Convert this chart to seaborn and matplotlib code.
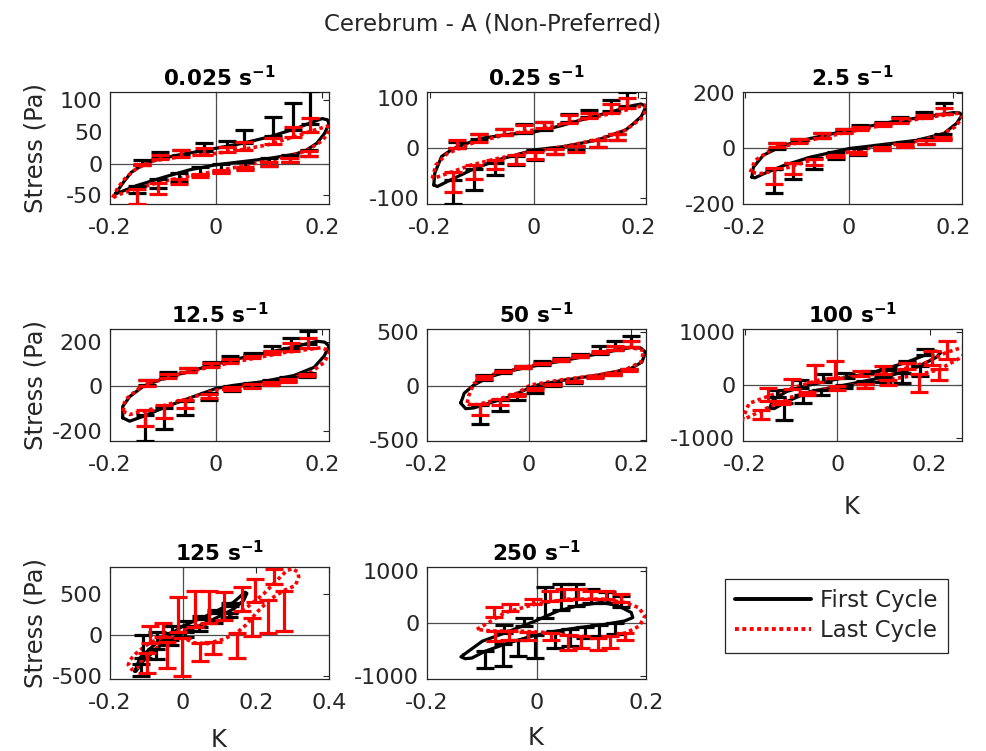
import matplotlib
matplotlib.use("Agg")
import matplotlib.pyplot as plt
import seaborn as sns
import numpy as np
from matplotlib.lines import Line2D
from matplotlib.ticker import FuncFormatter

# ---------------- data ----------------
rates = ["0.025", "0.25", "2.5", "12.5", "50", "100", "125", "250"]

# panel 1 : 0.025 1/s
p1_first_x = [-0.19, -0.175, -0.16, -0.14, -0.12, -0.08, -0.04, 0, 0.05, 0.1, 0.15, 0.18, 0.2, 0.21, 0.213, 0.205, 0.19, 0.17, 0.15, 0.1, 0.05, 0, -0.05, -0.1, -0.15, -0.18, -0.19]
p1_first_y = [-48, -30, -14, -3, 4, 12, 18, 24, 32, 42, 55, 65, 71, 69, 63, 48, 32, 21, 15, 8, 3, -2, -10, -22, -35, -45, -48]
p1_last_x = [-0.195, -0.185, -0.17, -0.15, -0.12, -0.08, -0.04, 0, 0.05, 0.1, 0.15, 0.19, 0.21, 0.214, 0.21, 0.195, 0.17, 0.13, 0.1, 0.05, 0, -0.05, -0.1, -0.15, -0.18, -0.195]
p1_last_y = [-54, -38, -22, -8, 4, 9, 13, 16, 22, 30, 43, 54, 59, 55, 45, 33, 20, 10, 5, -4, -12, -20, -28, -40, -48, -54]
p1_up_x = [-0.14, -0.105, -0.067, -0.023, 0.021, 0.053, 0.107, 0.145, 0.177]
p1_first_up_y = [-2, 8, 14, 20, 26, 32, 44, 53, 63]
p1_first_up_e = [7, 10, 8, 12, 10, 21, 30, 43, 51]
p1_last_up_y = [-3, 7, 11, 14, 18, 22, 31, 42, 50]
p1_last_up_e = [3, 6, 10, 10, 8, 12, 9, 16, 22]
p1_lo_x = [-0.15, -0.11, -0.07, -0.03, 0.01, 0.055, 0.1, 0.14, 0.175]
p1_first_lo_y = [-35, -24, -15, -6, -1, 3, 8, 13, 22]
p1_first_lo_e = [12, 14, 14, 12, 12, 11, 12, 11, 10]
p1_last_lo_y = [-40, -31, -24, -16, -10, -5, 2, 8, 20]
p1_last_lo_e = [24, 17, 8, 6, 5, 6, 6, 6, 8]

# panel 2 : 0.25 1/s
p2_first_x = [-0.192, -0.19, -0.177, -0.16, -0.147, -0.103, -0.05, 0, 0.05, 0.09, 0.154, 0.19, 0.206, 0.215, 0.206, 0.19, 0.176, 0.122, 0.058, 0, -0.07, -0.12, -0.166, -0.185, -0.192]
p2_first_y = [-74, -50, -17, -5, 2, 19, 27, 32, 44, 56, 74, 85, 88, 83, 63, 48, 36, 16, 3, -4, -24, -44, -67, -77, -74]
p2_last_x = [-0.195, -0.188, -0.166, -0.12, -0.057, 0, 0.09, 0.167, 0.205, 0.212, 0.215, 0.206, 0.176, 0.122, 0.058, 0, -0.07, -0.12, -0.166, -0.185, -0.195]
p2_last_y = [-61, -34, -11, 9, 26, 36, 56, 73, 84, 86, 76, 59, 36, 17, 3, -7, -21, -34, -51, -58, -61]
p2_up_x = [-0.147, -0.105, -0.057, -0.019, 0.02, 0.068, 0.105, 0.147, 0.178]
p2_first_up_y = [0, 18, 26, 31, 36, 52, 62, 75, 85]
p2_first_up_e = [13, 11, 13, 18, 16, 17, 14, 21, 28]
p2_last_up_y = [1, 13, 26, 33, 40, 51, 60, 71, 80]
p2_last_up_e = [15, 16, 13, 13, 13, 15, 10, 18, 21]
p2_lo_x = [-0.155, -0.115, -0.075, -0.035, 0.003, 0.04, 0.08, 0.122, 0.16]
p2_first_lo_y = [-64, -42, -29, -15, -4, 0, 5, 16, 29]
p2_first_lo_e = [47, 42, 25, 19, 20, 11, 9, 13, 13]
p2_last_lo_y = [-47, -33, -24, -14, -7, -1, 5, 17, 29]
p2_last_lo_e = [40, 28, 17, 17, 14, 10, 12, 14, 13]

# panel 3 : 2.5 1/s
p3_first_x = [-0.187, -0.184, -0.165, -0.126, -0.075, 0, 0.085, 0.15, 0.2, 0.212, 0.217, 0.207, 0.182, 0.131, 0.054, 0, -0.075, -0.126, -0.165, -0.181, -0.187]
p3_first_y = [-104, -68, -25, 11, 35, 65, 96, 114, 128, 127, 120, 90, 53, 29, 11, -1, -32, -62, -92, -106, -104]
p3_last_x = [-0.19, -0.181, -0.152, -0.107, -0.056, 0, 0.085, 0.163, 0.211, 0.217, 0.204, 0.176, 0.125, 0.054, 0, -0.075, -0.126, -0.171, -0.19]
p3_last_y = [-86, -44, -8, 16, 37, 59, 90, 114, 126, 108, 77, 47, 23, 5, -13, -44, -74, -91, -86]
p3_up_x = [-0.139, -0.097, -0.052, -0.01, 0.021, 0.066, 0.098, 0.144, 0.182]
p3_first_up_y = [-2, 22, 38, 60, 70, 88, 96, 111, 124]
p3_first_up_e = [20, 13, 17, 10, 14, 8, 18, 21, 38]
p3_last_up_y = [5, 18, 38, 55, 64, 80, 92, 108, 122]
p3_last_up_e = [14, 17, 18, 13, 13, 10, 16, 13, 23]
p3_lo_x = [-0.145, -0.107, -0.068, -0.025, 0.018, 0.063, 0.108, 0.147, 0.18]
p3_first_lo_y = [-74, -54, -35, -13, 2, 11, 22, 34, 52]
p3_first_lo_e = [85, 56, 39, 25, 27, 18, 17, 17, 17]
p3_last_lo_y = [-72, -52, -40, -25, -12, 3, 16, 30, 42]
p3_last_lo_e = [56, 39, 20, 8, 8, 10, 11, 13, 12]

# panel 4 : 12.5 1/s
p4_first_x = [-0.176, -0.176, -0.163, -0.137, -0.093, -0.055, 0, 0.064, 0.128, 0.191, 0.205, 0.213, 0.204, 0.185, 0.147, 0.084, 0.033, 0, -0.043, -0.093, -0.137, -0.163, -0.176]
p4_first_y = [-142, -91, -47, 0, 41, 63, 100, 136, 166, 202, 198, 180, 136, 85, 48, 19, 4, -10, -47, -91, -135, -157, -142]
p4_last_x = [-0.175, -0.172, -0.146, -0.108, -0.055, 0, 0.064, 0.128, 0.198, 0.215, 0.204, 0.179, 0.141, 0.084, 0, -0.062, -0.125, -0.163, -0.175]
p4_last_y = [-113, -62, -11, 26, 63, 92, 122, 151, 173, 158, 107, 63, 34, 12, -18, -62, -105, -127, -113]
p4_up_x = [-0.131, -0.09, -0.052, -0.01, 0.027, 0.068, 0.106, 0.141, 0.173]
p4_first_up_y = [5, 45, 65, 95, 115, 140, 158, 172, 190]
p4_first_up_e = [21, 18, 17, 12, 21, 11, 22, 45, 56]
p4_last_up_y = [3, 35, 63, 88, 105, 125, 145, 158, 170]
p4_last_up_e = [26, 20, 19, 17, 17, 11, 13, 36, 46]
p4_lo_x = [-0.134, -0.099, -0.058, -0.014, 0.03, 0.068, 0.103, 0.135, 0.172]
p4_first_lo_y = [-127, -96, -65, -30, 3, 15, 27, 42, 60]
p4_first_lo_e = [118, 97, 62, 32, 25, 20, 20, 20, 20]
p4_last_lo_y = [-105, -84, -64, -35, -5, 10, 20, 33, 55]
p4_last_lo_e = [74, 58, 34, 19, 13, 20, 16, 15, 10]

# panel 5 : 50 1/s
p5_first_x = [-0.134, -0.13, -0.127, -0.108, -0.077, -0.04, 0, 0.07, 0.135, 0.2, 0.22, 0.229, 0.222, 0.2, 0.135, 0.07, 0.017, 0, -0.036, -0.077, -0.108, -0.124, -0.134]
p5_first_y = [-157, -110, -67, 9, 85, 135, 176, 236, 297, 357, 350, 312, 221, 161, 100, 55, 9, -21, -97, -157, -203, -210, -157]
p5_last_x = [-0.121, -0.118, -0.108, -0.077, 0, 0.07, 0.135, 0.2, 0.226, 0.22, 0.187, 0.135, 0.07, 0.003, -0.023, -0.063, -0.102, -0.118, -0.121]
p5_last_y = [-157, -90, 24, 100, 182, 245, 306, 357, 327, 221, 145, 100, 61, 9, -67, -127, -173, -170, -157]
p5_up_x = [-0.089, -0.05, -0.012, 0.025, 0.064, 0.1, 0.14, 0.17, 0.2]
p5_first_up_y = [55, 120, 165, 195, 230, 265, 300, 330, 357]
p5_first_up_e = [45, 25, 17, 35, 28, 32, 73, 88, 107]
p5_last_up_y = [60, 125, 170, 200, 235, 270, 305, 335, 357]
p5_last_up_e = [31, 15, 15, 15, 15, 15, 22, 38, 61]
p5_lo_x = [-0.095, -0.056, -0.023, 0.012, 0.048, 0.088, 0.13, 0.166, 0.197]
p5_first_lo_y = [-180, -130, -80, -10, 25, 50, 95, 120, 160]
p5_first_lo_e = [175, 103, 47, 57, 25, 20, 15, 15, 15]
p5_last_lo_y = [-165, -120, -70, -20, 20, 50, 90, 120, 155]
p5_last_lo_e = [99, 53, 27, 16, 15, 15, 15, 15, 15]

# panel 6 : 100 1/s
p6_first_x = [-0.147, -0.139, -0.11, -0.059, 0, 0.073, 0.147, 0.213, 0.224, 0.213, 0.169, 0.11, 0.037, 0, -0.059, -0.11, -0.136, -0.147]
p6_first_y = [-449, -288, -128, 0, 109, 224, 417, 641, 609, 513, 321, 160, 32, -32, -128, -321, -449, -449]
p6_last_x = [-0.206, -0.191, -0.162, -0.11, -0.037, 0.037, 0.11, 0.191, 0.235, 0.28, 0.28, 0.264, 0.22, 0.176, 0.11, 0.037, -0.037, -0.11, -0.154, -0.184, -0.206]
p6_last_y = [-673, -353, -256, -96, 96, 160, 224, 417, 609, 737, 609, 500, 288, 192, 96, 0, -96, -256, -449, -577, -673]
p6_first_up_x = [-0.13, -0.08, -0.03, 0.02, 0.07, 0.11, 0.15, 0.19]
p6_first_up_y = [-230, -60, 60, 130, 215, 280, 420, 560]
p6_first_up_e = [130, 160, 140, 100, 45, 50, 30, 120]
p6_first_lo_x = [-0.115, -0.075, -0.035, 0.015, 0.06, 0.1, 0.14, 0.18]
p6_first_lo_y = [-350, -190, -100, 0, 80, 140, 230, 350]
p6_first_lo_e = [310, 163, 92, 60, 60, 80, 200, 180]
p6_last_up_x = [-0.15, -0.099, -0.048, -0.004, 0.051, 0.1, 0.15, 0.206, 0.238]
p6_last_up_y = [-300, -80, 50, 120, 170, 210, 300, 380, 480]
p6_last_up_e = [236, 189, 335, 329, 86, 143, 120, 261, 353]
p6_last_lo_x = [-0.165, -0.12, -0.066, 0, 0.059, 0.11, 0.176, 0.22]
p6_last_lo_y = [-470, -300, -130, -20, 20, 96, 210, 300]
p6_last_lo_e = [170, 60, 60, 76, 84, 96, 340, 200]

# panel 7 : 125 1/s
p7_first_x = [-0.132, -0.118, -0.072, 0.001, 0.075, 0.138, 0.17, 0.175, 0.166, 0.138, 0.075, 0.001, -0.063, -0.109, -0.129, -0.132]
p7_first_y = [-440, -277, -94, 110, 251, 394, 516, 503, 415, 312, 171, 28, -134, -317, -440, -440]
p7_last_x = [-0.144, -0.127, -0.091, -0.045, 0.001, 0.047, 0.12, 0.175, 0.221, 0.257, 0.285, 0.3, 0.315, 0.317, 0.308, 0.276, 0.24, 0.202, 0.175, 0.148, 0.111, 0.065, 0.028, 0.001, -0.036, -0.072, -0.109, -0.125, -0.14, -0.15, -0.144]
p7_last_y = [-297, -216, -94, -12, 69, 110, 191, 333, 496, 658, 780, 800, 760, 700, 597, 536, 434, 272, 130, 28, -53, -106, -94, -33, -73, -155, -277, -400, -420, -360, -297]
p7_first_up_x = [-0.11, -0.07, -0.03, 0.01, 0.05, 0.09, 0.13]
p7_first_up_y = [-280, -100, 20, 110, 190, 260, 350]
p7_first_up_e = [280, 140, 90, 60, 40, 40, 40]
p7_first_lo_x = [-0.115, -0.075, -0.035, 0.005, 0.045, 0.085, 0.125]
p7_first_lo_y = [-350, -170, -60, 30, 100, 180, 260]
p7_first_lo_e = [150, 120, 60, 60, 50, 40, 40]
p7_last_up_x = [-0.091, -0.054, -0.013, 0.033, 0.07, 0.111, 0.161, 0.198, 0.248]
p7_last_up_y = [-94, -30, 40, 100, 140, 185, 290, 400, 620]
p7_last_up_e = [204, 180, 423, 436, 396, 331, 287, 278, 180]
p7_last_lo_x = [-0.1, -0.045, -0.004, 0.047, 0.083, 0.148, 0.189, 0.234, 0.276]
p7_last_lo_y = [-220, -80, -40, -100, -90, 28, 200, 420, 536]
p7_last_lo_e = [240, 319, 460, 217, 146, 305, 212, 392, 487]

# panel 8 : 250 1/s
p8_first_x = [-0.133, -0.099, -0.057, -0.002, 0.04, 0.076, 0.119, 0.149, 0.173, 0.176, 0.161, 0.125, 0.076, 0.028, -0.008, -0.051, -0.094, -0.118, -0.13, -0.138, -0.133]
p8_first_y = [-600, -341, -180, 46, 240, 336, 400, 336, 207, 110, 46, -19, -83, -160, -244, -373, -534, -663, -676, -640, -600]
p8_last_x = [-0.109, -0.093, -0.057, -0.002, 0.059, 0.119, 0.16, 0.186, 0.198, 0.188, 0.164, 0.121, 0.076, 0.028, -0.033, -0.082, -0.109]
p8_last_y = [-116, -19, 207, 368, 464, 464, 400, 304, 143, -50, -180, -277, -244, -180, -147, -147, -116]
p8_first_up_x = [-0.06, -0.022, 0.016, 0.045, 0.072, 0.1, 0.128, 0.155]
p8_first_up_y = [-190, -50, 110, 260, 340, 380, 390, 320]
p8_first_up_e = [150, 150, 580, 494, 414, 278, 204, 209]
p8_first_lo_x = [-0.094, -0.061, -0.033, -0.002, 0.034, 0.061, 0.088, 0.115, 0.143]
p8_first_lo_y = [-534, -400, -320, -230, -150, -110, -70, -30, 10]
p8_first_lo_e = [323, 425, 311, 433, 320, 327, 207, 214, 222]
p8_last_up_x = [-0.078, -0.048, -0.006, 0.024, 0.051, 0.076, 0.1, 0.127, 0.155]
p8_last_up_y = [120, 230, 370, 420, 455, 470, 470, 460, 410]
p8_last_up_e = [184, 138, 94, 206, 203, 188, 156, 166, 152]
p8_last_lo_x = [-0.075, -0.051, -0.015, 0.027, 0.057, 0.082, 0.112, 0.134, 0.161]
p8_last_lo_y = [-150, -150, -160, -180, -215, -250, -275, -250, -190]
p8_last_lo_e = [191, 159, 149, 129, 287, 220, 227, 220, 119]

xlims = [(-0.2, 0.213), (-0.205, 0.215), (-0.204, 0.217), (-0.198, 0.213),
         (-0.2, 0.23), (-0.204, 0.27), (-0.2, 0.4), (-0.2, 0.2)]
ylims = [(-64, 113), (-112, 112), (-200, 202), (-246, 257),
         (-509, 527), (-1065, 1058), (-533, 821), (-1064, 1077)]
yticks = [[-50, 0, 50, 100], [-100, 0, 100], [-200, 0, 200], [-200, 0, 200],
          [-500, 0, 500], [-1000, 0, 1000], [-500, 0, 500], [-1000, 0, 1000]]
xticks = [[-0.2, 0, 0.2]] * 6 + [[-0.2, 0, 0.2, 0.4], [-0.2, 0, 0.2]]

panels = [
    dict(fx=p1_first_x, fy=p1_first_y, lx=p1_last_x, ly=p1_last_y,
         fu=(p1_up_x, p1_first_up_y, p1_first_up_e), fl=(p1_lo_x, p1_first_lo_y, p1_first_lo_e),
         lu=(p1_up_x, p1_last_up_y, p1_last_up_e), ll=(p1_lo_x, p1_last_lo_y, p1_last_lo_e)),
    dict(fx=p2_first_x, fy=p2_first_y, lx=p2_last_x, ly=p2_last_y,
         fu=(p2_up_x, p2_first_up_y, p2_first_up_e), fl=(p2_lo_x, p2_first_lo_y, p2_first_lo_e),
         lu=(p2_up_x, p2_last_up_y, p2_last_up_e), ll=(p2_lo_x, p2_last_lo_y, p2_last_lo_e)),
    dict(fx=p3_first_x, fy=p3_first_y, lx=p3_last_x, ly=p3_last_y,
         fu=(p3_up_x, p3_first_up_y, p3_first_up_e), fl=(p3_lo_x, p3_first_lo_y, p3_first_lo_e),
         lu=(p3_up_x, p3_last_up_y, p3_last_up_e), ll=(p3_lo_x, p3_last_lo_y, p3_last_lo_e)),
    dict(fx=p4_first_x, fy=p4_first_y, lx=p4_last_x, ly=p4_last_y,
         fu=(p4_up_x, p4_first_up_y, p4_first_up_e), fl=(p4_lo_x, p4_first_lo_y, p4_first_lo_e),
         lu=(p4_up_x, p4_last_up_y, p4_last_up_e), ll=(p4_lo_x, p4_last_lo_y, p4_last_lo_e)),
    dict(fx=p5_first_x, fy=p5_first_y, lx=p5_last_x, ly=p5_last_y,
         fu=(p5_up_x, p5_first_up_y, p5_first_up_e), fl=(p5_lo_x, p5_first_lo_y, p5_first_lo_e),
         lu=(p5_up_x, p5_last_up_y, p5_last_up_e), ll=(p5_lo_x, p5_last_lo_y, p5_last_lo_e)),
    dict(fx=p6_first_x, fy=p6_first_y, lx=p6_last_x, ly=p6_last_y,
         fu=(p6_first_up_x, p6_first_up_y, p6_first_up_e), fl=(p6_first_lo_x, p6_first_lo_y, p6_first_lo_e),
         lu=(p6_last_up_x, p6_last_up_y, p6_last_up_e), ll=(p6_last_lo_x, p6_last_lo_y, p6_last_lo_e)),
    dict(fx=p7_first_x, fy=p7_first_y, lx=p7_last_x, ly=p7_last_y,
         fu=(p7_first_up_x, p7_first_up_y, p7_first_up_e), fl=(p7_first_lo_x, p7_first_lo_y, p7_first_lo_e),
         lu=(p7_last_up_x, p7_last_up_y, p7_last_up_e), ll=(p7_last_lo_x, p7_last_lo_y, p7_last_lo_e)),
    dict(fx=p8_first_x, fy=p8_first_y, lx=p8_last_x, ly=p8_last_y,
         fu=(p8_first_up_x, p8_first_up_y, p8_first_up_e), fl=(p8_first_lo_x, p8_first_lo_y, p8_first_lo_e),
         lu=(p8_last_up_x, p8_last_up_y, p8_last_up_e), ll=(p8_last_lo_x, p8_last_lo_y, p8_last_lo_e)),
]

# ---------------- style ----------------
sns.set_style("white")
plt.rcParams["font.family"] = ["DejaVu Sans"]
plt.rcParams["mathtext.fontset"] = "dejavusans"
plt.rcParams["axes.unicode_minus"] = False

W, H = 986, 751
fig = plt.figure(figsize=(W / 100, H / 100), dpi=100)
fig.patch.set_facecolor("white")

col_left = [110, 427, 743]
row_top = [92, 329, 567]
ax_w, ax_h = 219, 112

AX_COL = "#262626"
LW = 2.3
FS_TICK = 16
DOTS = (0, (1, 0.9))


def tick_fmt(v, pos):
    if abs(v) < 1e-12:
        return "0"
    return "%g" % v


def errbars(ax, data, color, upward):
    x, y, e = data
    zeros = [0] * len(e)
    yerr = [zeros, e] if upward else [e, zeros]
    ax.errorbar(x, y, yerr=yerr, fmt="none", ecolor=color, elinewidth=LW,
                capsize=6.5, capthick=LW, zorder=4)


for i, p in enumerate(panels):
    r, c = divmod(i, 3)
    left = col_left[c] / W
    bottom = 1 - (row_top[r] + ax_h) / H
    ax = fig.add_axes([left, bottom, ax_w / W, ax_h / H])
    ax.set_facecolor("white")
    ax.axhline(0, color="#4d4d4d", lw=0.9, zorder=1)
    ax.axvline(0, color="#4d4d4d", lw=0.9, zorder=1)

    sns.lineplot(x=p["fx"], y=p["fy"], sort=False, estimator=None, color="black",
                 lw=LW, ax=ax, zorder=3)
    sns.lineplot(x=p["lx"], y=p["ly"], sort=False, estimator=None, color="red",
                 lw=LW + 0.3, linestyle=DOTS, ax=ax, zorder=3)
    errbars(ax, p["fu"], "black", True)
    errbars(ax, p["fl"], "black", False)
    errbars(ax, p["lu"], "red", True)
    errbars(ax, p["ll"], "red", False)

    ax.set_xlim(*xlims[i])
    ax.set_ylim(*ylims[i])
    ax.set_xticks(xticks[i])
    ax.set_yticks(yticks[i])
    ax.xaxis.set_major_formatter(FuncFormatter(tick_fmt))
    ax.yaxis.set_major_formatter(FuncFormatter(tick_fmt))
    ax.tick_params(direction="in", length=4, width=0.8, colors=AX_COL,
                   labelsize=FS_TICK, top=True, right=True)
    ax.tick_params(axis="x", pad=10)
    ax.tick_params(axis="y", pad=5.5)
    for s in ax.spines.values():
        s.set_color(AX_COL)
        s.set_linewidth(0.9)
        s.set_visible(True)
    ax.set_xlabel("")
    ax.set_ylabel("")
    ax.set_title(rates[i] + r" s$^{\mathbf{-1}}$", fontsize=15.5, fontweight="bold",
                 color="black", pad=4)

# y labels
for r in range(3):
    yc = 1 - (row_top[r] + ax_h / 2) / H
    fig.text(35 / W, yc, "Stress (Pa)", rotation=90, ha="center", va="center",
             fontsize=17.5, color=AX_COL)

# x labels
for (xc, yc) in [(852, 507), (219, 740), (536, 738)]:
    fig.text(xc / W, 1 - yc / H, "K", ha="center", va="center", fontsize=17.5, color=AX_COL)

fig.text(0.5, 1 - 24 / H, "Cerebrum - A (Non-Preferred)", ha="center", va="center",
         fontsize=16.5, color=AX_COL)

handles = [Line2D([0], [0], color="black", lw=LW + 0.5),
           Line2D([0], [0], color="red", lw=LW + 0.5, linestyle=DOTS)]
leg = fig.legend(handles, ["First Cycle", "Last Cycle"], loc="upper left",
                 bbox_to_anchor=(725 / W, 1 - 579 / H), fontsize=16.5, frameon=True,
                 fancybox=False, edgecolor=AX_COL, framealpha=1, handlelength=3.3,
                 handletextpad=0.4, borderpad=0.45, labelspacing=0.3,
                 borderaxespad=0)
leg.get_frame().set_linewidth(0.9)

fig.savefig("out.png", dpi=100, facecolor="white")
